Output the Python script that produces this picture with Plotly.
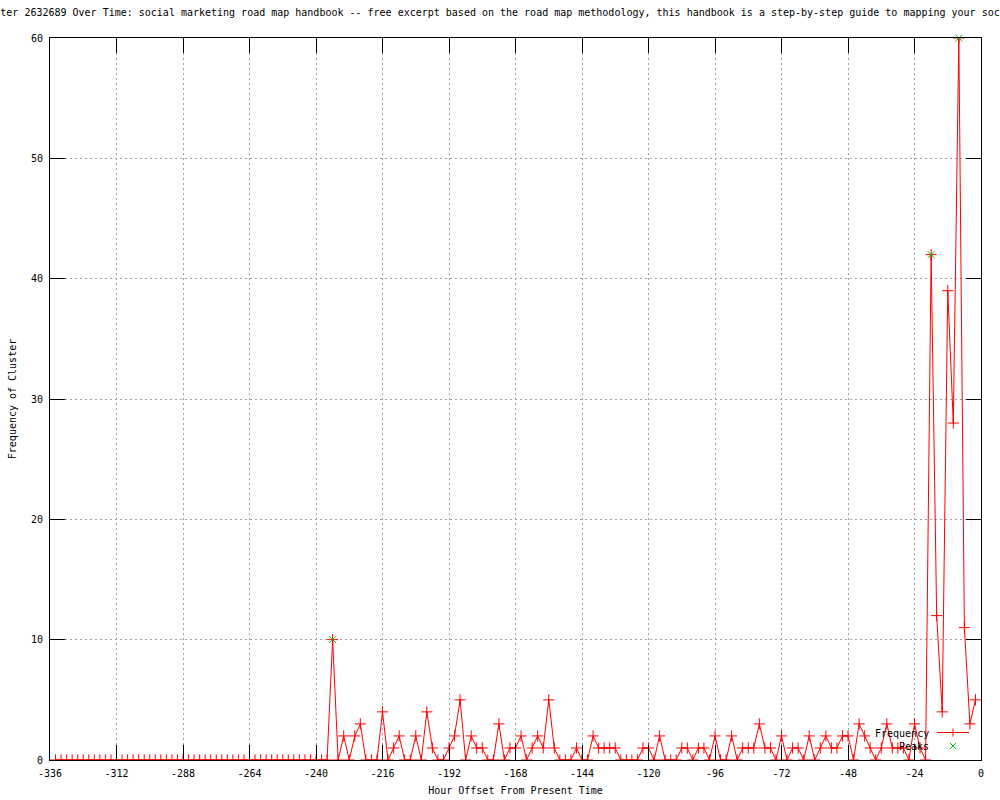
import plotly.graph_objects as go

# hour offsets, one sample every 2 hours
hours = list(range(-334, 0, 2))

frequency = [
    0, 0, 0, 0, 0, 0, 0, 0, 0, 0,
    0, 0, 0, 0, 0, 0, 0, 0, 0, 0,
    0, 0, 0, 0, 0, 0, 0, 0, 0, 0,
    0, 0, 0, 0, 0, 0, 0, 0, 0, 0,
    0, 0, 0, 0, 0, 0, 0, 0, 0, 0,          # -334 .. -236
    10, 0, 2, 0, 2, 3, 0, 0, 0, 4,         # -234 .. -216
    0, 1, 2, 0, 0, 2, 0, 4, 1, 0,          # -214 .. -196
    0, 1, 2, 5, 0, 2, 1, 1, 0, 0,          # -194 .. -176
    3, 0, 1, 1, 2, 0, 1, 2, 1, 5,          # -174 .. -156
    1, 0, 0, 0, 1, 0, 0, 2, 1, 1,          # -154 .. -136
    1, 1, 0, 0, 0, 0, 1, 1, 0, 2,          # -134 .. -116
    0, 0, 0, 1, 1, 0, 1, 1, 0, 2,          # -114 .. -96
    0, 0, 2, 0, 1, 1, 1, 3, 1, 1,          # -94 .. -76
    0, 2, 0, 1, 1, 0, 2, 0, 1, 2,          # -74 .. -56
    1, 1, 2, 2, 0, 3, 2, 1, 0, 1,          # -54 .. -36
    3, 1, 1, 1, 0, 3, 1, 0, 42, 12,        # -34 .. -16
    4, 39, 28, 60, 11, 3, 5,               # -14 .. -2
]

peak_hours = [-234, -18, -8]
peak_values = [10, 42, 60]

x_tick_vals = [-336, -312, -288, -264, -240, -216, -192, -168, -144, -120, -96, -72, -48, -24, 0]
x_tick_text = [str(v) for v in x_tick_vals]
y_tick_vals = [0, 10, 20, 30, 40, 50, 60]

title_text = ("Frequency of Cluster 2632689 Over Time: social marketing road map handbook -- "
              "free excerpt based on the road map methodology, this handbook is a step-by-step "
              "guide to mapping your social media program")

MONO = "DejaVu Sans Mono, Liberation Mono, monospace"
RED = "#ff0000"
GREEN = "#00c000"

# plot area in pixels
L, R, T, B = 50, 981, 38, 760


def px(x):
    return (x - L) / (R - L)


def py(y):
    return (B - y) / (B - T)


fig = go.Figure()

fig.add_trace(go.Scatter(
    x=hours, y=frequency, mode="lines+markers", name="Frequency",
    line=dict(color=RED, width=1),
    marker=dict(symbol="cross-thin", size=8, line=dict(color=RED, width=1)),
    showlegend=False,
))

fig.add_trace(go.Scatter(
    x=peak_hours, y=peak_values, mode="markers", name="Peaks",
    marker=dict(symbol="x-thin", size=7, line=dict(color=GREEN, width=1)),
    cliponaxis=False, showlegend=False,
))

axis_common = dict(
    showline=True, linecolor="black", linewidth=1, mirror="ticks",
    ticks="inside", ticklen=15, tickcolor="black", tickwidth=1,
    showgrid=True, gridcolor="#a0a0a0", gridwidth=1, griddash="2px,3px",
    zeroline=False, automargin=False,
    tickfont=dict(family=MONO, size=10, color="black"),
)

fig.update_xaxes(
    range=[-336, 0], tickvals=x_tick_vals, ticktext=x_tick_text, ticklabelstandoff=4,
    title=dict(text="Hour Offset From Present Time", font=dict(family=MONO, size=10, color="black"),
               standoff=8),
    **axis_common,
)
fig.update_yaxes(
    range=[0, 60], tickvals=y_tick_vals, ticklabelstandoff=4,
    title=dict(text="Frequency of Cluster", font=dict(family=MONO, size=10, color="black"),
               standoff=12),
    **axis_common,
)

# gnuplot-style key: label on the left, sample on the right
leg_shapes = [
    dict(type="line", xref="paper", yref="paper", x0=px(937), x1=px(969), y0=py(732.5), y1=py(732.5),
         line=dict(color=RED, width=1)),
    dict(type="line", xref="paper", yref="paper", x0=px(953), x1=px(953), y0=py(728.5), y1=py(736.5),
         line=dict(color=RED, width=1)),
    dict(type="line", xref="paper", yref="paper", x0=px(950), x1=px(956), y0=py(743), y1=py(749),
         line=dict(color=GREEN, width=1)),
    dict(type="line", xref="paper", yref="paper", x0=px(950), x1=px(956), y0=py(749), y1=py(743),
         line=dict(color=GREEN, width=1)),
]
leg_annotations = [
    dict(text="Frequency", xref="paper", yref="paper", x=px(931), y=py(733), xanchor="right",
         yanchor="middle", showarrow=False, font=dict(family=MONO, size=10, color="black")),
    dict(text="Peaks", xref="paper", yref="paper", x=px(931), y=py(746), xanchor="right",
         yanchor="middle", showarrow=False, font=dict(family=MONO, size=10, color="black")),
]

fig.update_layout(
    width=1000, height=800,
    margin=dict(l=L, r=1000 - R, t=T, b=800 - B),
    paper_bgcolor="white", plot_bgcolor="white",
    font=dict(family=MONO, size=10, color="black"),
    title=dict(text=title_text, x=0.5, xanchor="center", y=1 - 12 / 800, yanchor="middle",
               font=dict(family=MONO, size=10, color="black")),
    shapes=leg_shapes,
    annotations=leg_annotations,
    showlegend=False,
)

fig.write_html("out.html", config={"displayModeBar": False},
               post_script="document.body.style.margin='0px';")
